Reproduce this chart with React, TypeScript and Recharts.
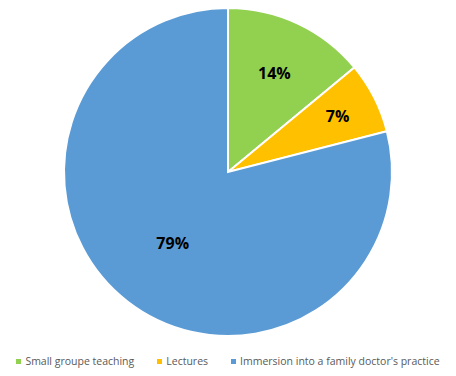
import React from "react";
import { PieChart, Pie, Cell, Legend } from "recharts";

const categories = ["Small groupe teaching", "Lectures", "Immersion into a family doctor's practice"];
const values = [14, 7, 79];
const colors = ["#92D050", "#FFC000", "#5B9BD5"];
const labelRadiusRatio = [0.665, 0.75, 0.55];

const data = categories.map((name, i) => ({ name, value: values[i] }));

const RADIAN = Math.PI / 180;

const renderLabel = (props: any) => {
  const { cx, cy, midAngle, outerRadius, index, value } = props;
  const r = outerRadius * labelRadiusRatio[index];
  const x = cx + r * Math.cos(-midAngle * RADIAN);
  const y = cy + r * Math.sin(-midAngle * RADIAN);
  return (
    <text
      x={x}
      y={y}
      textAnchor="middle"
      dominantBaseline="central"
      fill="#000"
      fontSize={16}
      fontWeight="bold"
      fontFamily="'Open Sans', sans-serif"
    >
      {value}%
    </text>
  );
};

const renderLegend = () => (
  <div
    style={{
      display: "flex",
      justifyContent: "center",
      gap: 23,
      fontFamily: "'Open Sans', sans-serif",
      fontSize: 10.5,
      color: "#595959",
    }}
  >
    {categories.map((c, i) => (
      <div key={c} style={{ display: "flex", alignItems: "center" }}>
        <span style={{ width: 5, height: 5, background: colors[i], display: "inline-block", marginRight: 4 }} />
        <span>{c}</span>
      </div>
    ))}
  </div>
);

export default function App() {
  return (
    <div style={{ position: "absolute", left: 0, top: 0, width: 456, height: 376, background: "#fff" }}>
      <PieChart width={456} height={376} margin={{ top: 0, right: 0, bottom: 0, left: 0 }}>
        <Pie
          data={data}
          dataKey="value"
          nameKey="name"
          cx={228}
          cy={172}
          outerRadius={164}
          startAngle={90}
          endAngle={-270}
          stroke="#fff"
          strokeWidth={2}
          label={renderLabel}
          labelLine={false}
          isAnimationActive={false}
        >
          {data.map((d, i) => (
            <Cell key={d.name} fill={colors[i]} />
          ))}
        </Pie>
        <Legend
          content={renderLegend}
          wrapperStyle={{ position: "absolute", left: 0, top: 354, width: 456 }}
        />
      </PieChart>
    </div>
  );
}
